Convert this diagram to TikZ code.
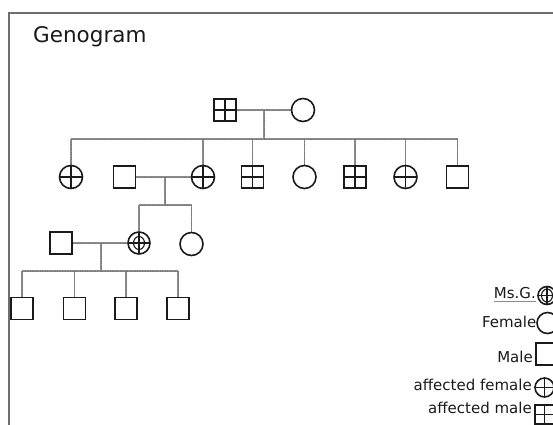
\documentclass[tikz,border=0pt]{standalone}
\usepackage{fontspec}
\setmainfont{DejaVu Sans}
\usetikzlibrary{backgrounds}
\definecolor{ink}{HTML}{1A1A1A}
\definecolor{conn}{HTML}{8C8C8C}
\definecolor{framec}{HTML}{6E6E6E}
\tikzset{
  sym/.style={draw=ink, line width=1.6pt, inner sep=0pt, fill=white},
  male/.style={sym, rectangle, minimum size=22pt},
  female/.style={sym, circle, minimum size=23pt},
  crossed/.style={path picture={
    \draw[ink, line width=1.1pt] (path picture bounding box.north) -- (path picture bounding box.south);
    \draw[ink, line width=1.1pt] (path picture bounding box.west) -- (path picture bounding box.east);}},
  affmale/.style={male, crossed},
  afffemale/.style={female, crossed},
  msg/.style={female, path picture={
    \draw[ink, line width=1.1pt] (path picture bounding box.north) -- (path picture bounding box.south);
    \draw[ink, line width=1.1pt] (path picture bounding box.west) -- (path picture bounding box.east);
    \draw[ink, line width=1.1pt] (path picture bounding box.center) ellipse (5.5pt and 6.5pt);}},
  link/.style={draw=conn, line width=1.7pt},
  linkdots/.style={draw=black!55, line width=0.6pt, dash pattern=on 1pt off 1.5pt},
  legtext/.style={anchor=base east, inner sep=0pt, text=ink, font=\fontsize{15}{17}\selectfont},
}
\begin{document}
\begin{tikzpicture}[x=1pt, y=-1pt]
\useasboundingbox (0,0) rectangle (553,424);
\clip (0,0) rectangle (553,424);
% frame
\draw[framec, line width=1.5pt] (9,440) -- (9,13) -- (570,13);
% title
\node[anchor=base west, inner sep=0pt, text=ink, font=\fontsize{21.5}{26}\selectfont] (title) at (33,42) {Genogram};

% generation 1
\node[affmale] (g1m) at (225,110) {};
\node[female] (g1f) at (303,110) {};
\coordinate (c1) at (264,110);
\coordinate (s1) at (264,139);

% generation 2
\node[afffemale] (g2a) at (71,177) {};
\node[male]      (g2b) at (124.5,177) {};
\node[afffemale] (g2c) at (203,177) {};
\node[affmale]   (g2d) at (252.5,177) {};
\node[female]    (g2e) at (304.5,177) {};
\node[affmale]   (g2f) at (355,177) {};
\node[afffemale] (g2g) at (405.5,177) {};
\node[male]      (g2h) at (457.5,177) {};
\coordinate (c2) at (165,177);
\coordinate (s2) at (165,205);

% generation 3
\node[male]   (g3a) at (61,243) {};
\node[msg, minimum size=22pt] (g3b) at (139,243) {};
\node[female] (g3c) at (191.5,244) {};
\coordinate (c3) at (101,243);
\coordinate (s3) at (101,271);

% generation 4
\node[male] (g4a) at (22,308.5) {};
\node[male] (g4b) at (74.5,308.5) {};
\node[male] (g4c) at (126,308.5) {};
\node[male] (g4d) at (178,308.5) {};

% connectors
\begin{pgfonlayer}{background}
\foreach \st in {link, linkdots}{
  \draw[\st] (g1m.east) -- (g1f.west);
  \draw[\st] (c1) -- (s1);
  \draw[\st] (s1 -| g2a) -- (s1 -| g2h);
  \foreach \n in {g2a,g2c,g2d,g2e,g2f,g2g,g2h}{
    \draw[\st] (s1 -| \n) -- (\n.north);
  }
  \draw[\st] (g2b.east) -- (g2c.west);
  \draw[\st] (c2) -- (s2);
  \draw[\st] (s2 -| g3b) -- (s2 -| g3c);
  \draw[\st] (s2 -| g3b) -- (g3b.north);
  \draw[\st] (s2 -| g3c) -- (g3c.north);
  \draw[\st] (g3a.east) -- (g3b.west);
  \draw[\st] (c3) -- (s3);
  \draw[\st] (s3 -| g4a) -- (s3 -| g4d);
  \foreach \n in {g4a,g4b,g4c,g4d}{
    \draw[\st] (s3 -| \n) -- (\n.north);
  }
}
\end{pgfonlayer}

% legend
\node[legtext] (l1) at (536,298) {Ms.G.};
\draw[conn, line width=0.8pt] ([yshift=-3pt]l1.base west) -- ([yshift=-3pt]l1.base east);
\node[msg, minimum size=18pt] (ls1) at (547,295.5) {};
\node[legtext] (l2) at (536.5,327) {Female};
\node[female, minimum size=21pt] (ls2) at (547.5,323) {};
\node[legtext] (l3) at (533,362) {Male};
\node[male] (ls3) at (547,354) {};
\node[legtext] (l4) at (532,390) {affected female};
\node[afffemale, minimum size=19pt] (ls4) at (544.5,387.5) {};
\node[legtext] (l5) at (532,413) {affected male};
\node[affmale, minimum size=19pt] (ls5) at (544.5,414.5) {};
\end{tikzpicture}
\end{document}
